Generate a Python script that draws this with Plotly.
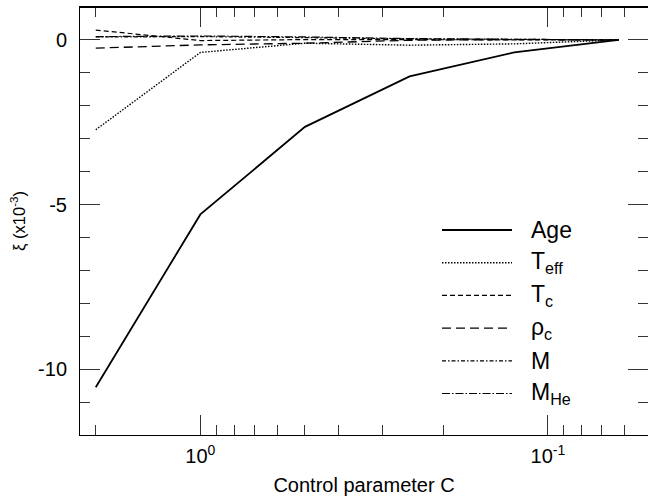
import math
import plotly.graph_objects as go

# Control parameter C (x axis, log scale, decreasing to the right)
control_c = [2.0, 1.0, 0.5, 0.25, 0.125, 0.0625]

# Relative deviation xi (in units of 1e-3) for each stellar quantity
xi_age = [-10.55, -5.30, -2.64, -1.11, -0.38, 0.0]
xi_teff = [-2.73, -0.38, -0.10, -0.16, -0.12, 0.0]
xi_tc = [0.30, -0.02, 0.01, 0.01, 0.01, 0.0]
xi_rhoc = [-0.25, -0.15, -0.10, -0.01, 0.01, 0.0]
xi_m = [0.09, 0.10, 0.07, 0.03, 0.02, 0.0]
xi_mhe = [0.10, 0.12, 0.09, 0.04, 0.02, 0.0]

series_labels = ["Age", "T<sub>eff</sub>", "T<sub>c</sub>", "ρ<sub>c</sub>", "M", "M<sub>He</sub>"]
series_values = [xi_age, xi_teff, xi_tc, xi_rhoc, xi_m, xi_mhe]

x_major_ticks = [1.0, 0.1]
x_major_text = ["10<sup>0</sup>", "10<sup>-1</sup>"]
x_minor_ticks = [2, 0.9, 0.8, 0.7, 0.6, 0.5, 0.4, 0.3, 0.2, 0.09, 0.08, 0.07, 0.06]
y_major_ticks = [0, -5, -10]
y_major_text = ["0", "-5", "-10"]

# line styles per series: (dash pattern, width)
styles = [
    ("solid", 1.8),
    ("1.5px,1.5px", 1.4),
    ("5px,3px", 1.2),
    ("9px,5px", 1.3),
    ("4px,2px,1.5px,2px", 1.2),
    ("8px,2px,1.5px,2px", 1.2),
]

FONT = "Liberation Sans, Arial, Helvetica, sans-serif"
W, H = 648, 501
ML, MR, MT, MB = 80, 0, 7, 66

fig = go.Figure()
for label, vals, (dash, lw) in zip(series_labels, series_values, styles):
    fig.add_trace(go.Scatter(
        x=control_c, y=vals, mode="lines", name=label,
        line=dict(color="black", width=lw, dash=dash),
        showlegend=False,
    ))

# Hand-drawn legend: long line samples with labels to the right
plot_w = W - ML - MR
plot_h = H - MT - MB
leg_x0 = (442 - ML) / plot_w
leg_x1 = (512 - ML) / plot_w
leg_tx = (529 - ML) / plot_w
row0 = 230
row_gap = 32.7
shapes = []
annotations = []
for i, (label, (dash, lw)) in enumerate(zip(series_labels, styles)):
    ypix = row0 + i * row_gap
    yp = (H - MB - ypix) / plot_h
    shapes.append(dict(type="line", xref="paper", yref="paper",
                       x0=leg_x0, x1=leg_x1, y0=yp, y1=yp,
                       line=dict(color="black", width=lw, dash=dash)))
    annotations.append(dict(xref="paper", yref="paper", x=leg_tx, y=yp,
                            xanchor="left", yanchor="middle", showarrow=False,
                            text=label, font=dict(size=23, color="black", family=FONT)))

# heavier top frame edge
shapes.append(dict(type="line", xref="paper", yref="paper", x0=0, x1=1, y0=1, y1=1,
                   line=dict(color="black", width=2)))

x_lo = math.log10(2.22)
x_hi = math.log10(0.0515)

fig.update_layout(
    width=W, height=H,
    margin=dict(l=ML, r=MR, t=MT, b=MB, pad=0),
    paper_bgcolor="white", plot_bgcolor="white",
    font=dict(family=FONT, size=20, color="black"),
    shapes=shapes, annotations=annotations,
    showlegend=False,
)

fig.update_xaxes(
    type="log", range=[x_lo, x_hi],
    tickmode="array", tickvals=x_major_ticks, ticktext=x_major_text,
    ticks="inside", ticklen=20, tickwidth=1, tickcolor="#333",
    minor=dict(tickmode="array", tickvals=x_minor_ticks, ticks="inside",
               ticklen=10, tickwidth=1, tickcolor="#333", showgrid=False),
    showline=True, linecolor="black", linewidth=1, mirror="allticks",
    showgrid=False, zeroline=False,
    tickfont=dict(size=20),
    ticklabelstandoff=3,
    title=dict(text="Control parameter C", font=dict(size=20), standoff=11),
)

fig.update_yaxes(
    range=[-12, 1],
    tickmode="array", tickvals=y_major_ticks, ticktext=y_major_text,
    ticks="inside", ticklen=20, tickwidth=1, tickcolor="#333",
    minor=dict(dtick=1, tick0=0, ticks="inside", ticklen=10, tickwidth=1,
               tickcolor="#333", showgrid=False),
    showline=True, linecolor="black", linewidth=1, mirror="allticks",
    showgrid=False, zeroline=False,
    tickfont=dict(size=20),
    ticklabelstandoff=8,
    title=dict(text="ξ (x10<sup>-3</sup>)", font=dict(size=16.5), standoff=8),
)

fig.write_html("out.html")
